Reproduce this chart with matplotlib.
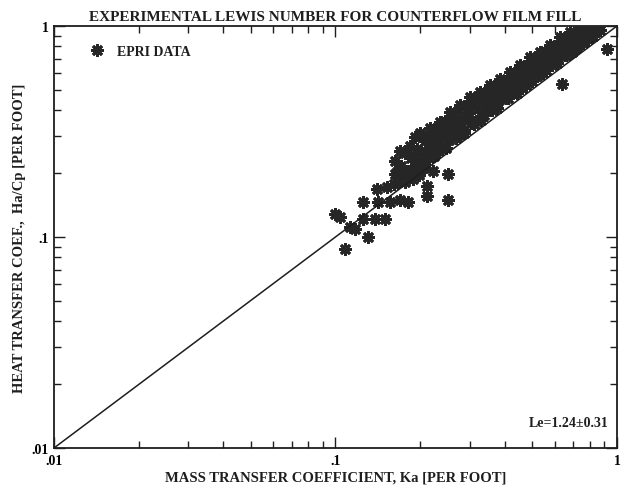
import matplotlib
matplotlib.use("Agg")
import matplotlib.pyplot as plt
from matplotlib.ticker import FixedLocator, LogLocator, NullFormatter

# EPRI data, Ka (x) vs Ha/Cp (y)
ka = [
    0.108, 0.130, 0.104, 0.100, 0.113, 0.125, 0.138, 0.150, 0.125, 0.142,
    0.156, 0.169, 0.181, 0.140, 0.152, 0.169, 0.189, 0.211, 0.211, 0.163,
    0.181, 0.200, 0.251, 0.251, 0.222, 0.117, 0.640, 0.921,
    0.163, 0.165, 0.161, 0.169, 0.171, 0.168, 0.177, 0.179, 0.176,
    0.184, 0.186, 0.183, 0.192, 0.190, 0.194, 0.200, 0.202, 0.199, 0.198,
    0.208, 0.210, 0.207, 0.217, 0.219, 0.215, 0.226, 0.228, 0.224,
    0.235, 0.237, 0.233, 0.245, 0.243, 0.247, 0.255, 0.257, 0.253,
    0.266, 0.264, 0.268, 0.277, 0.279, 0.275, 0.288, 0.290, 0.286,
    0.301, 0.299, 0.303, 0.313, 0.315, 0.311, 0.326, 0.324, 0.328,
    0.340, 0.342, 0.338, 0.354, 0.356, 0.352, 0.369, 0.367, 0.371,
    0.384, 0.386, 0.382, 0.400, 0.398, 0.402, 0.417, 0.419, 0.415,
    0.434, 0.432, 0.436, 0.452, 0.455, 0.449, 0.471, 0.468, 0.474,
    0.491, 0.494, 0.488, 0.511, 0.508, 0.514, 0.532, 0.535, 0.529,
    0.555, 0.552, 0.558, 0.578, 0.581, 0.575, 0.602, 0.599, 0.605,
    0.627, 0.630, 0.624, 0.653, 0.650, 0.656, 0.681, 0.684, 0.678,
    0.710, 0.707, 0.713, 0.739, 0.742, 0.736, 0.769, 0.766,
    0.802, 0.805, 0.835, 0.870,
    0.195, 0.214, 0.232, 0.262, 0.296, 0.345, 0.392, 0.445, 0.520, 0.597,
    0.205, 0.225, 0.240, 0.270, 0.285, 0.310, 0.330, 0.360, 0.375, 0.410,
    0.440, 0.460, 0.500, 0.520, 0.545, 0.590, 0.610, 0.660, 0.690, 0.720,
    0.760, 0.790, 0.820,
]
ha_cp = [
    0.0877, 0.100, 0.124, 0.1285, 0.111, 0.1217, 0.1217, 0.1217, 0.1465, 0.1465,
    0.1465, 0.149, 0.1465, 0.169, 0.1726, 0.184, 0.188, 0.1564, 0.1745, 0.199,
    0.2055, 0.203, 0.149, 0.199, 0.2055, 0.109, 0.531, 0.778,
    0.229, 0.204, 0.178, 0.256, 0.218, 0.190, 0.250, 0.206, 0.183,
    0.270, 0.238, 0.197, 0.298, 0.244, 0.217, 0.312, 0.256, 0.226, 0.196,
    0.286, 0.251, 0.212, 0.330, 0.270, 0.238, 0.326, 0.290, 0.243,
    0.350, 0.293, 0.264, 0.356, 0.314, 0.263, 0.390, 0.326, 0.289,
    0.389, 0.349, 0.294, 0.420, 0.356, 0.322, 0.419, 0.376, 0.320,
    0.460, 0.389, 0.348, 0.452, 0.411, 0.350, 0.485, 0.420, 0.376,
    0.483, 0.448, 0.378, 0.525, 0.453, 0.410, 0.520, 0.484, 0.420,
    0.560, 0.484, 0.447, 0.550, 0.523, 0.455, 0.604, 0.522, 0.483,
    0.600, 0.558, 0.486, 0.652, 0.563, 0.521, 0.648, 0.602, 0.524,
    0.712, 0.614, 0.569, 0.700, 0.657, 0.578, 0.752, 0.663, 0.620,
    0.763, 0.710, 0.617, 0.810, 0.709, 0.670, 0.808, 0.766, 0.676,
    0.884, 0.765, 0.722, 0.870, 0.818, 0.729, 0.935, 0.826, 0.770,
    0.930, 0.882, 0.786, 0.960, 0.872, 0.832, 0.950, 0.855,
    0.975, 0.885, 0.945, 0.962,
    0.262, 0.300, 0.318, 0.372, 0.420, 0.468, 0.500, 0.575, 0.645, 0.720,
    0.226, 0.250, 0.262, 0.301, 0.312, 0.343, 0.360, 0.398, 0.410, 0.455,
    0.480, 0.508, 0.548, 0.577, 0.596, 0.650, 0.668, 0.728, 0.755, 0.792,
    0.832, 0.868, 0.898,
]

# Le = 1 reference line
line_x = [0.01, 1.0]
line_y = [0.01, 1.0]

tick_vals = [0.01, 0.1, 1]
tick_labels = [".01", ".1", "1"]

font = {"family": "Liberation Serif", "weight": "bold"}
ink = "#1e1e1e"

fig = plt.figure(figsize=(6.32, 4.89), dpi=100)
ax = fig.add_axes([0.0854, 0.0818, 0.8908, 0.863])

ax.plot(line_x, line_y, color=ink, lw=1.1, zorder=4)
ax.plot(ka, ha_cp, ls="none", marker=(8, 2, 0), ms=9, mew=2.0,
        color="#262626", zorder=3, label="EPRI DATA")

ax.set_xscale("log")
ax.set_yscale("log")
ax.set_xlim(0.01, 1)
ax.set_ylim(0.01, 1)

for axis in (ax.xaxis, ax.yaxis):
    axis.set_major_locator(FixedLocator(tick_vals))
    axis.set_minor_locator(LogLocator(base=10, subs=range(2, 10)))
    axis.set_minor_formatter(NullFormatter())
ax.set_xticks(tick_vals, tick_labels, **font, fontsize=10)
ax.set_yticks(tick_vals, tick_labels, **font, fontsize=10)
ax.tick_params(which="both", direction="in", top=True, right=True,
               color=ink, width=1.0)
ax.tick_params(which="major", length=8, pad=4)
ax.tick_params(which="minor", length=5)
for s in ax.spines.values():
    s.set_linewidth(1.3)
    s.set_color(ink)

ax.set_title("EXPERIMENTAL LEWIS NUMBER FOR COUNTERFLOW FILM FILL",
             fontdict=font, fontsize=11, pad=4, color=ink)
ax.set_xlabel("MASS TRANSFER COEFFICIENT, Ka [PER FOOT]",
              fontdict=font, fontsize=10.5, labelpad=3, color=ink)
ax.set_ylabel("HEAT TRANSFER COEF.,  Ha/Cp [PER FOOT]",
              fontdict=font, fontsize=10.5, labelpad=4, color=ink)

leg = ax.legend(loc="upper left", frameon=False, handlelength=1.2,
                prop={"family": "Liberation Serif", "weight": "bold", "size": 10},
                bbox_to_anchor=(0.04, 0.985))
for t in leg.get_texts():
    t.set_color(ink)

ax.text(0.985, 0.045, "Le=1.24\u00b10.31", transform=ax.transAxes,
        ha="right", va="bottom", fontdict=font, fontsize=10, color=ink)

fig.savefig("out.png", dpi=100)
